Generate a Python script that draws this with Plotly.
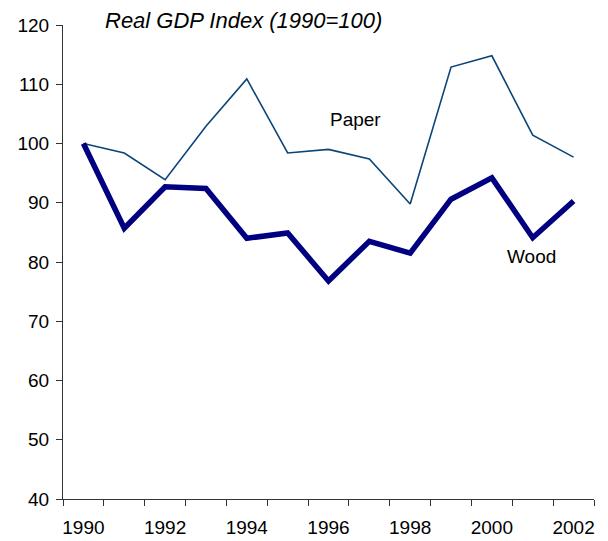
import plotly.graph_objects as go

years = list(range(1990, 2003))
paper = [100, 98.4, 93.9, 102.9, 110.9, 98.4, 99.0, 97.4, 89.8, 112.9, 114.8, 101.4, 97.7]
wood = [100, 85.7, 92.7, 92.4, 84.0, 84.9, 76.8, 83.5, 81.5, 90.6, 94.2, 84.1, 90.3]
x_labels = [1990, 1992, 1994, 1996, 1998, 2000, 2002]

fig = go.Figure()
fig.add_trace(go.Scatter(x=years, y=paper, mode="lines", name="Paper",
                         line=dict(color="#0b4578", width=1.6)))
fig.add_trace(go.Scatter(x=years, y=wood, mode="lines", name="Wood",
                         line=dict(color="#000080", width=5.5)))

fig.add_annotation(x=1996.67, y=104.1, text="Paper", showarrow=False,
                   font=dict(size=19, color="black"))
fig.add_annotation(x=2000.96, y=81.0, text="Wood", showarrow=False,
                   font=dict(size=19, color="black"))
fig.add_annotation(xref="paper", yref="paper", x=0.076, y=1.0105, yanchor="middle",
                   text="<i>Real GDP Index (1990=100)</i>", showarrow=False,
                   font=dict(size=22, color="black"), xanchor="left")

fig.update_layout(
    width=608, height=541,
    margin=dict(l=63, r=14, t=25, b=42),
    plot_bgcolor="white", paper_bgcolor="white",
    showlegend=False,
    font=dict(family="Arial, Liberation Sans, sans-serif", size=19, color="black"),
)
fig.update_xaxes(
    range=[1989.5, 2002.5], tickvals=x_labels, ticklen=0,
    automargin=False, ticklabelstandoff=11,
    showgrid=False, zeroline=False,
    showline=True, linecolor="#333", linewidth=1,
    minor=dict(tick0=1989.5, dtick=1, ticks="outside", ticklen=6, tickcolor="#333"),
)
fig.update_yaxes(
    range=[40, 120], dtick=10, ticks="outside", ticklen=6, tickcolor="#333",
    automargin=False, ticklabelstandoff=3,
    showgrid=False, zeroline=False,
    showline=True, linecolor="#333", linewidth=1,
)

# page body has a default 8px margin; drop it so the figure fills the window
fig.write_html("out.html", config={"displayModeBar": False},
               post_script="document.body.style.margin='0';")
